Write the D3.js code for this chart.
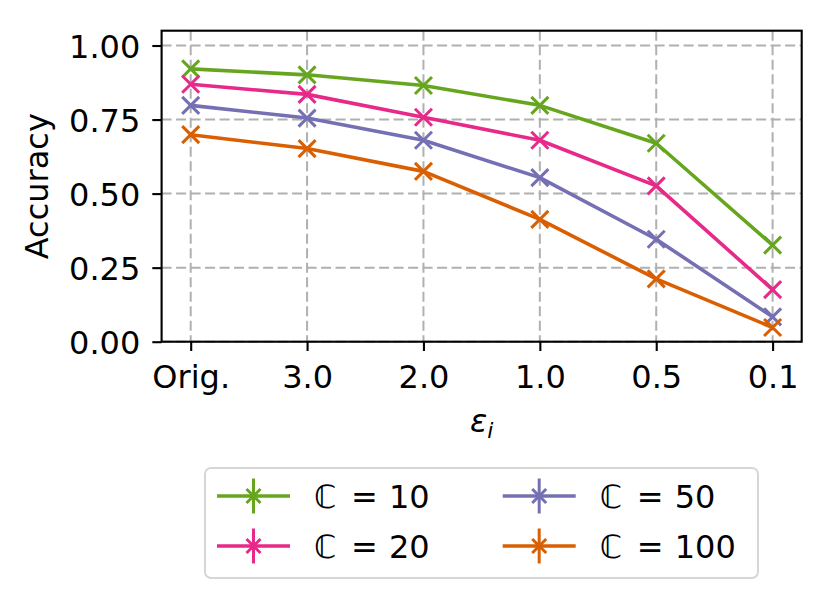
<!DOCTYPE html>
<html>
<head>
<meta charset="utf-8">
<script src="https://cdn.jsdelivr.net/npm/d3@7"></script>
<style>
  body { margin: 0; background: #fff; }
  svg { display: block; }
  text { font-family: "DejaVu Sans", sans-serif; fill: #000; }
</style>
</head>
<body>
<svg width="832" height="600"></svg>
<script>
// values
var epsLabels = ['Orig.', '3.0', '2.0', '1.0', '0.5', '0.1']
var yTicks = [0, 0.25, 0.5, 0.75, 1.0]

var acc10  = [0.921, 0.901, 0.865, 0.798, 0.670, 0.326]
var acc20  = [0.869, 0.835, 0.758, 0.680, 0.526, 0.176]
var acc50  = [0.798, 0.755, 0.680, 0.554, 0.346, 0.084]
var acc100 = [0.699, 0.652, 0.575, 0.413, 0.212, 0.048]

var seriesNames = ['10', '20', '50', '100']
var colors = ['#66a61e', '#e7298a', '#7570b3', '#d95f02']

var series = [acc10, acc20, acc50, acc100].map(function (v, i) {
  return { name: seriesNames[i], color: colors[i], values: v }
})

var box = { left: 161.6, right: 801.7, top: 30.7, bottom: 341.7 }

var svg = d3.select('svg')

var x = d3.scalePoint().domain(epsLabels).range([box.left, box.right]).padding(0.25)
var y = d3.scaleLinear().domain([0, 1.05]).range([box.bottom, box.top])

// grid
var grid = svg.append('g').attr('stroke', '#b0b0b0').attr('stroke-width', 2)
  .attr('stroke-dasharray', '10,4.5')
grid.selectAll('.gx').data(epsLabels).enter().append('line')
  .attr('x1', function (d) { return x(d) }).attr('x2', function (d) { return x(d) })
  .attr('y1', box.top).attr('y2', box.bottom)
grid.selectAll('.gy').data(yTicks).enter().append('line')
  .attr('x1', box.left).attr('x2', box.right)
  .attr('y1', function (d) { return y(d) }).attr('y2', function (d) { return y(d) })

// lines + markers
var line = d3.line()
  .x(function (d, i) { return x(epsLabels[i]) })
  .y(function (d) { return y(d) })

var m = 8.5
series.forEach(function (s) {
  var g = svg.append('g')
  g.append('path').attr('d', line(s.values))
    .attr('fill', 'none').attr('stroke', s.color).attr('stroke-width', 3.6)
    .attr('stroke-linejoin', 'round')
  g.selectAll('path.mk').data(s.values).enter().append('path')
    .attr('class', 'mk')
    .attr('d', function (d, i) {
      var cx = x(epsLabels[i]), cy = y(d)
      return 'M' + (cx - m) + ',' + (cy - m) + 'L' + (cx + m) + ',' + (cy + m) +
             'M' + (cx - m) + ',' + (cy + m) + 'L' + (cx + m) + ',' + (cy - m)
    })
    .attr('stroke', s.color).attr('stroke-width', 3)
})

// frame
svg.append('rect').attr('x', box.left).attr('y', box.top)
  .attr('width', box.right - box.left).attr('height', box.bottom - box.top)
  .attr('fill', 'none').attr('stroke', '#000').attr('stroke-width', 2.1)

// axes
var xAxis = svg.append('g').attr('transform', 'translate(0,' + box.bottom + ')')
  .call(d3.axisBottom(x).tickSize(9.3).tickSizeOuter(0))
var yAxis = svg.append('g').attr('transform', 'translate(' + box.left + ',0)')
  .call(d3.axisLeft(y).tickValues(yTicks).tickFormat(d3.format('.2f')).tickSize(9.3).tickPadding(12))

;[xAxis, yAxis].forEach(function (a) {
  a.select('.domain').remove()
  a.selectAll('.tick line').attr('stroke', '#000').attr('stroke-width', 2.1)
  a.selectAll('.tick text').attr('font-size', 32).attr('font-family', '"DejaVu Sans"').attr('fill', '#000')
})
xAxis.selectAll('.tick text').attr('y', 46.3).attr('dy', 0)
yAxis.selectAll('.tick text').attr('dy', '0.36em')

// axis labels
var xl = svg.append('text').attr('x', 481.6).attr('y', 432).attr('text-anchor', 'middle')
  .attr('font-size', 32)
xl.append('tspan').attr('font-style', 'italic').text('ε')
xl.append('tspan').attr('font-style', 'italic').attr('font-size', 22).attr('dy', 6).text('i')

svg.append('text').attr('transform', 'translate(48,186.2) rotate(-90)')
  .attr('text-anchor', 'middle').attr('font-size', 32).text('Accuracy')

// legend
var leg = svg.append('g')
leg.append('rect').attr('x', 205).attr('y', 468).attr('width', 553).attr('height', 110)
  .attr('rx', 6).attr('fill', '#fff').attr('fill-opacity', 0.8)
  .attr('stroke', '#d6d6d6').attr('stroke-width', 2)

var cols = [217, 502.7]
var rows = [496, 546]
series.forEach(function (s, i) {
  var lx = cols[Math.floor(i / 2)], ly = rows[i % 2]
  var cx = lx + 36.5
  var g = leg.append('g').attr('stroke', s.color)
  g.append('line').attr('x1', lx).attr('x2', lx + 73).attr('y1', ly).attr('y2', ly).attr('stroke-width', 3.6)
  g.append('line').attr('x1', cx).attr('x2', cx).attr('y1', ly - 17.5).attr('y2', ly + 17.5).attr('stroke-width', 3)
  var k = 7
  g.append('path').attr('stroke-width', 3)
    .attr('d', 'M' + (cx - k) + ',' + (ly - k) + 'L' + (cx + k) + ',' + (ly + k) +
               'M' + (cx - k) + ',' + (ly + k) + 'L' + (cx + k) + ',' + (ly - k))
  var t = leg.append('text').attr('y', ly + 11.5).attr('font-size', 32)
  t.append('tspan').attr('x', lx + 97).attr('font-style', 'italic').attr('font-weight', 200).text('ℂ')
  t.append('tspan').attr('x', lx + 134).text('=')
  t.append('tspan').attr('x', lx + 172).text(s.name)
})
</script>
</body>
</html>
